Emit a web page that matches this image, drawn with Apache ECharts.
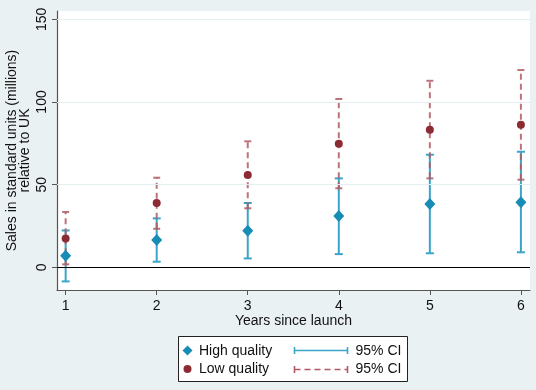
<!DOCTYPE html>
<html>
<head>
<meta charset="utf-8">
<script src="https://cdn.jsdelivr.net/npm/echarts@6/dist/echarts.min.js"></script>
<style>html,body{margin:0;padding:0;background:#eaf1f3;}#c{width:536px;height:390px;}</style>
</head>
<body>
<div id="c"></div>
<script>
var years = [1, 2, 3, 4, 5, 6];
var highMean = [7.0, 16.5, 22.1, 31.0, 38.3, 39.3];
var highLo = [-8.5, 3.4, 5.4, 8.0, 8.5, 9.1];
var highHi = [22.3, 29.6, 38.9, 53.8, 68.1, 69.9];
var lowMean = [17.4, 38.9, 55.8, 74.7, 83.2, 86.2];
var lowLo = [1.8, 23.3, 35.7, 47.8, 53.8, 53.0];
var lowHi = [33.5, 54.2, 76.2, 101.8, 112.8, 119.3];
var xTicks = [1, 2, 3, 4, 5, 6];
var yTicks = [0, 50, 100, 150];
var gridTicks = [50, 100, 150];

var FONT = 'Liberation Sans, Arial, sans-serif';
var BLUE_LINE = '#3aa5c8', BLUE_MARK = '#178db6';
var RED_LINE = '#b25a64', RED_MARK = '#8c2b34';

function ciData(lo, hi) { return years.map(function (y, i) { return [y, lo[i], hi[i]]; }); }
function ptData(v) { return years.map(function (y, i) { return [y, v[i]]; }); }

function ciRender(color, width, dash, cap, opacity) {
  return function (params, api) {
    var x = api.value(0);
    var a = api.coord([x, api.value(1)]);
    var b = api.coord([x, api.value(2)]);
    var st = { stroke: color, lineWidth: width, opacity: opacity };
    var stl = { stroke: color, lineWidth: width, opacity: opacity };
    if (dash) stl.lineDash = dash;
    return {
      type: 'group',
      children: [
        { type: 'line', shape: { x1: a[0], y1: a[1], x2: b[0], y2: b[1] }, style: stl },
        { type: 'line', shape: { x1: a[0] - cap, y1: a[1], x2: a[0] + cap, y2: a[1] }, style: st },
        { type: 'line', shape: { x1: b[0] - cap, y1: b[1], x2: b[0] + cap, y2: b[1] }, style: st }
      ]
    };
  };
}

var chart = echarts.init(document.getElementById('c'), null, { renderer: 'canvas' });
chart.setOption({
  backgroundColor: '#eaf1f3',
  animation: false,
  textStyle: { fontFamily: FONT },
  grid: { left: 57, right: 6, top: 11, bottom: 100, show: true, backgroundColor: '#ffffff', borderWidth: 0,
          containLabel: false, outerBoundsMode: 'none' },
  xAxis: {
    type: 'value', min: 0.905, max: 6.1,
    name: 'Years since launch', nameLocation: 'middle', nameGap: 24, nameMoveOverlap: false,
    nameTextStyle: { fontSize: 14, color: '#111', fontFamily: FONT },
    axisLine: { show: true, onZero: false, lineStyle: { color: '#555', width: 1.2 } },
    axisTick: { show: true, length: 5, customValues: xTicks, lineStyle: { color: '#555' } },
    axisLabel: { customValues: xTicks, fontSize: 14, color: '#111', margin: 9, fontFamily: FONT },
    splitLine: { show: false }
  },
  yAxis: {
    type: 'value', min: -13.7, max: 155,
    name: 'Sales in standard units (millions)\nrelative to UK', nameLocation: 'middle', nameGap: 25, nameMoveOverlap: false,
    nameTextStyle: { fontSize: 14, color: '#111', lineHeight: 13, fontFamily: FONT },
    axisLine: { show: true, onZero: false, lineStyle: { color: '#555', width: 1.2 } },
    axisTick: { show: true, length: 5, customValues: yTicks, lineStyle: { color: '#555' } },
    axisLabel: { customValues: yTicks, rotate: 90, fontSize: 14, color: '#111', margin: 8, fontFamily: FONT },
    splitLine: { show: false }
  },
  series: [
    {
      type: 'custom', name: 'High CI', data: ciData(highLo, highHi),
      renderItem: ciRender(BLUE_LINE, 2, null, 4, 1), z: 3,
      markLine: {
        silent: true, symbol: 'none', label: { show: false },
        data: gridTicks.map(function (v) { return { yAxis: v, lineStyle: { color: '#e4eef1', width: 1, type: 'solid' } }; })
          .concat([{ yAxis: yTicks[0], lineStyle: { color: '#000', width: 1.2, type: 'solid' } }])
      }
    },
    {
      type: 'custom', name: 'Low CI', data: ciData(lowLo, lowHi),
      renderItem: ciRender(RED_LINE, 2, [6, 4], 3.5, 0.85), z: 4
    },
    {
      type: 'scatter', name: 'High quality', data: ptData(highMean),
      symbol: 'diamond', symbolSize: [11, 12], itemStyle: { color: BLUE_MARK, opacity: 1 }, z: 5
    },
    {
      type: 'scatter', name: 'Low quality', data: ptData(lowMean),
      symbol: 'circle', symbolSize: 8, itemStyle: { color: RED_MARK, opacity: 1 }, z: 6
    }
  ],
  graphic: [
    { type: 'rect', shape: { x: 178.5, y: 336.5, width: 229, height: 45 }, style: { fill: '#fff', stroke: '#222', lineWidth: 1 } },
    { type: 'polygon', shape: { points: [[187.5, 345.5], [192.5, 350.5], [187.5, 355.5], [182.5, 350.5]] }, style: { fill: BLUE_MARK } },
    { type: 'circle', shape: { cx: 187.5, cy: 369, r: 4 }, style: { fill: RED_MARK } },
    { type: 'text', x: 199, y: 351, style: { text: 'High quality', font: '14px ' + FONT, fill: '#111', verticalAlign: 'middle' } },
    { type: 'text', x: 199, y: 369.5, style: { text: 'Low quality', font: '14px ' + FONT, fill: '#111', verticalAlign: 'middle' } },
    { type: 'line', shape: { x1: 294.5, y1: 350.5, x2: 347.5, y2: 350.5 }, style: { stroke: BLUE_LINE, lineWidth: 1.6 } },
    { type: 'line', shape: { x1: 294.5, y1: 347, x2: 294.5, y2: 354 }, style: { stroke: BLUE_LINE, lineWidth: 1.6 } },
    { type: 'line', shape: { x1: 347.5, y1: 347, x2: 347.5, y2: 354 }, style: { stroke: BLUE_LINE, lineWidth: 1.6 } },
    { type: 'line', shape: { x1: 294.5, y1: 369.5, x2: 347.5, y2: 369.5 }, style: { stroke: RED_LINE, lineWidth: 1.6, lineDash: [6, 4] } },
    { type: 'line', shape: { x1: 294.5, y1: 366, x2: 294.5, y2: 373 }, style: { stroke: RED_LINE, lineWidth: 1.6 } },
    { type: 'line', shape: { x1: 347.5, y1: 366, x2: 347.5, y2: 373 }, style: { stroke: RED_LINE, lineWidth: 1.6 } },
    { type: 'text', x: 355.5, y: 351, style: { text: '95% CI', font: '14px ' + FONT, fill: '#111', verticalAlign: 'middle' } },
    { type: 'text', x: 355.5, y: 369.5, style: { text: '95% CI', font: '14px ' + FONT, fill: '#111', verticalAlign: 'middle' } }
  ]
});
</script>
</body>
</html>
